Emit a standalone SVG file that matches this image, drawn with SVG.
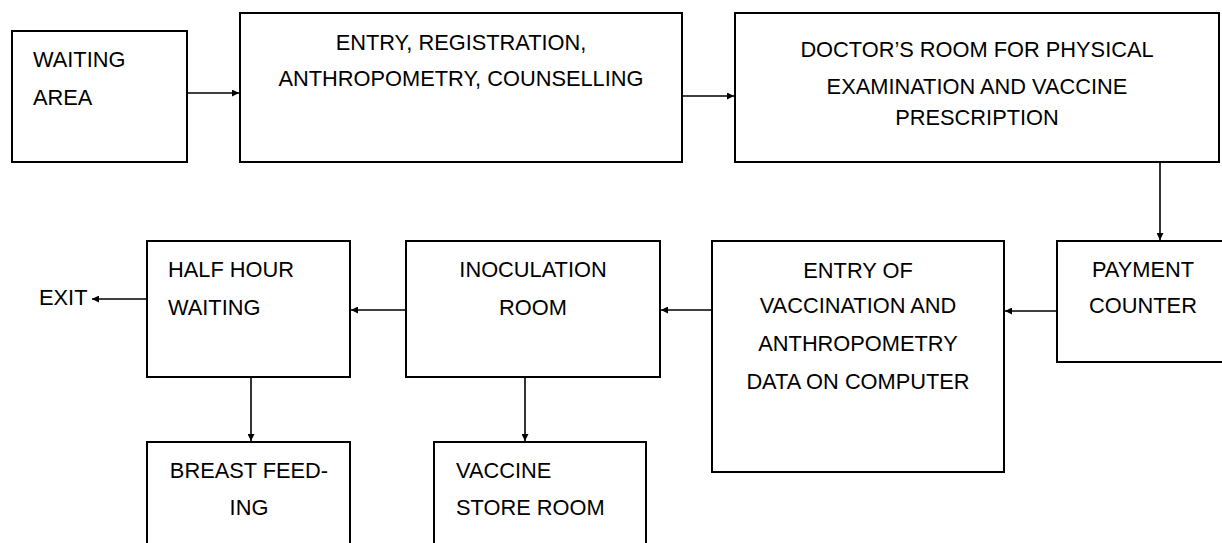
<svg xmlns="http://www.w3.org/2000/svg" width="1222" height="543" viewBox="0 0 1222 543">
<style>
.box{fill:#fff;stroke:#000;stroke-width:2}
.t{font-family:"Liberation Sans",Arial,sans-serif;font-size:21.8px;fill:#000}
.c{text-anchor:middle}
.ln{stroke:#000;stroke-width:1.6;fill:none;marker-end:url(#ah)}
</style>
<defs>
<marker id="ah" viewBox="0 0 10 10" refX="10" refY="5" markerWidth="7" markerHeight="7" markerUnits="userSpaceOnUse" orient="auto">
<path d="M0,0 L10,5 L0,10 z" fill="#000"/>
</marker>
</defs>
<rect width="1222" height="543" fill="#fff"/>
<g id="connectors">
<line class="ln" x1="187" y1="93" x2="239" y2="93"/>
<line class="ln" x1="682" y1="96" x2="734" y2="96"/>
<line class="ln" x1="1160" y1="162" x2="1160" y2="240"/>
<line class="ln" x1="1057" y1="311" x2="1005" y2="311"/>
<line class="ln" x1="712" y1="310" x2="661" y2="310"/>
<line class="ln" x1="406" y1="310" x2="351" y2="310"/>
<line class="ln" x1="147" y1="299" x2="92" y2="299"/>
<line class="ln" x1="251" y1="377" x2="251" y2="441"/>
<line class="ln" x1="525" y1="377" x2="525" y2="441"/>
</g>
<g id="waiting-area">
<rect class="box" x="12" y="31" width="175" height="131"/>
<text class="t" x="33" y="67">WAITING</text>
<text class="t" x="33" y="105">AREA</text>
</g>
<g id="entry-registration">
<rect class="box" x="240" y="13" width="442" height="149"/>
<text class="t c" x="461" y="50">ENTRY, REGISTRATION,</text>
<text class="t c" x="461" y="86">ANTHROPOMETRY, COUNSELLING</text>
</g>
<g id="doctors-room">
<rect class="box" x="735" y="13" width="484" height="149"/>
<text class="t c" x="977" y="57">DOCTOR’S ROOM FOR PHYSICAL</text>
<text class="t c" x="977" y="94">EXAMINATION AND VACCINE</text>
<text class="t c" x="977" y="125">PRESCRIPTION</text>
</g>
<g id="payment-counter">
<rect class="box" x="1057" y="241" width="172" height="121"/>
<text class="t c" x="1143" y="277">PAYMENT</text>
<text class="t c" x="1143" y="313">COUNTER</text>
</g>
<g id="entry-vaccination">
<rect class="box" x="712" y="241" width="292" height="231"/>
<text class="t c" x="858" y="278">ENTRY OF</text>
<text class="t c" x="858" y="313">VACCINATION AND</text>
<text class="t c" x="858" y="351">ANTHROPOMETRY</text>
<text class="t c" x="858" y="389">DATA ON COMPUTER</text>
</g>
<g id="inoculation-room">
<rect class="box" x="406" y="241" width="254" height="136"/>
<text class="t c" x="533" y="277">INOCULATION</text>
<text class="t c" x="533" y="315">ROOM</text>
</g>
<g id="half-hour-waiting">
<rect class="box" x="147" y="241" width="203" height="136"/>
<text class="t" x="168" y="277">HALF HOUR</text>
<text class="t" x="168" y="315">WAITING</text>
</g>
<g id="exit">
<text class="t" x="39" y="305">EXIT</text>
</g>
<g id="breast-feeding">
<rect class="box" x="147" y="442" width="203" height="120"/>
<text class="t c" x="249" y="478">BREAST FEED-</text>
<text class="t c" x="249" y="515">ING</text>
</g>
<g id="vaccine-store">
<rect class="box" x="434" y="442" width="212" height="120"/>
<text class="t" x="456" y="478">VACCINE</text>
<text class="t" x="456" y="515">STORE ROOM</text>
</g>
</svg>
